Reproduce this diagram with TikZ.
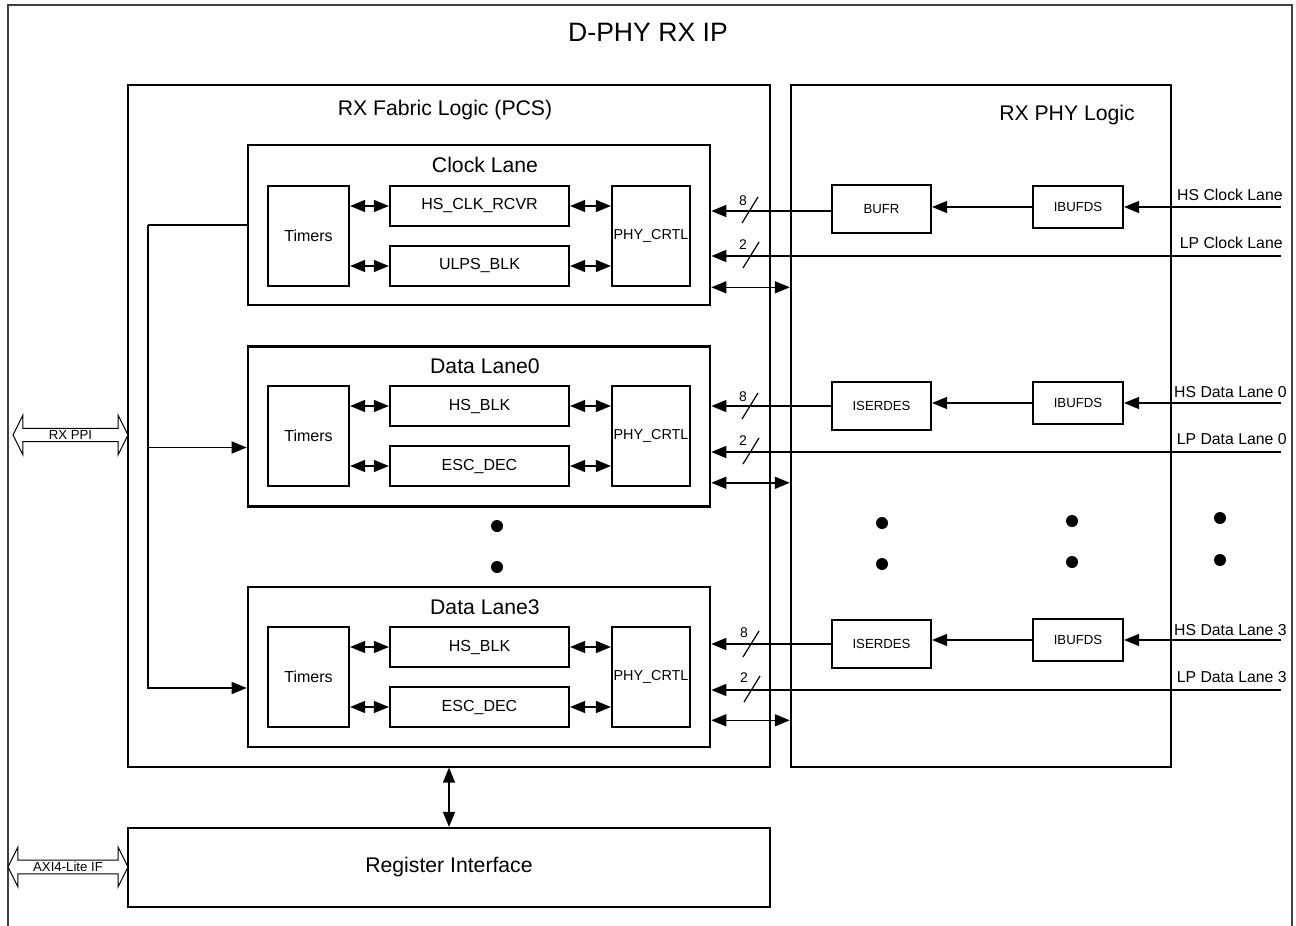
\documentclass[tikz,border=0pt]{standalone}
\usepackage{fontspec}
\setmainfont{Liberation Sans}
\usetikzlibrary{arrows.meta,shapes.arrows,calc}

\tikzset{
  bigtxt/.style={font=\fontsize{10.6}{12}\selectfont},
  lanebox/.style={draw, line width=1.3pt, inner sep=0pt, minimum width=231pt, minimum height=80pt},
  blk/.style={draw, line width=1.1pt, inner sep=0pt, font=\fontsize{8}{9}\selectfont},
  tmr/.style={blk, minimum width=40.5pt, minimum height=50pt},
  midblk/.style={blk, minimum width=89.5pt, minimum height=20pt},
  crtl/.style={blk, minimum width=39pt, minimum height=50pt, font=\fontsize{7.2}{8}\selectfont},
  phyblk/.style={draw, line width=1.1pt, inner sep=0pt, font=\fontsize{6.6}{8}\selectfont},
  serblk/.style={phyblk, minimum width=49.5pt, minimum height=24pt},
  ibufblk/.style={phyblk, minimum width=45pt, minimum height=21pt},
  sig/.style={line width=0.7pt, -{Triangle[length=7.5pt,width=6pt]}},
  bidir/.style={line width=0.7pt, {Triangle[length=7.5pt,width=6pt]}-{Triangle[length=7.5pt,width=6pt]}},
  pinlbl/.style={anchor=base east, inner sep=0pt, font=\fontsize{7.9}{9}\selectfont},
  buslbl/.style={font=\fontsize{7}{8}\selectfont},
  hollow/.style={double arrow, draw, line width=0.5pt, fill=white, inner sep=0pt,
    minimum width=20pt, double arrow head extend=5pt, double arrow tip angle=127,
    font=\fontsize{6.6}{8}\selectfont},
}

\begin{document}
\begin{tikzpicture}[x=0.5pt,y=-0.5pt]
    \useasboundingbox (0,0) rectangle (1296,926);

    % D-PHY RX IP
    \draw[line width=0.9pt, black!75] (8,940) -- (8,5) -- (1292,5) -- (1292,940);
    \node[font=\fontsize{13.3}{16}\selectfont] (ipT) at (648,32) {D-PHY RX IP};

    % RX Fabric Logic y RX PHY Logic
    \node[draw, line width=0.6pt, minimum width=321pt, minimum height=341pt] (fab) at (449,426) {};
    \node[bigtxt] (fabT) at (445,110) {RX Fabric Logic (PCS)};
    \node[draw, line width=1.2pt, minimum width=190pt, minimum height=341pt] (phy) at (981,426) {};
    \node[bigtxt] (phyT) at (1067,115) {RX PHY Logic};

    % Clock Lane
    \node[lanebox] (clk) at (479,225) {};
    \node[bigtxt] (clkT) at (485,165) {Clock Lane};
    \node[tmr] (tmrC) at (308.5,236) {Timers};
    \node[midblk] (hsC) at (479.5,206) {HS\_CLK\_RCVR};
    \node[midblk] (ulpsC) at (479.5,266) {ULPS\_BLK};
    \node[crtl] (crtlC) at (651,236) {PHY\_CRTL};
    \draw[bidir] (tmrC.east |- hsC) -- (hsC);
    \draw[bidir] (tmrC.east |- ulpsC) -- (ulpsC);
    \draw[bidir] (hsC) -- (hsC -| crtlC.west);
    \draw[bidir] (ulpsC) -- (ulpsC -| crtlC.west);

    % Data Lane0
    \node[lanebox] (dl0) at (479,426.5) {};
    \node[bigtxt] (dl0T) at (485,366) {Data Lane0};
    \node[tmr] (tmr0) at (308.5,436) {Timers};
    \node[midblk] (hs0) at (479.5,406) {HS\_BLK};
    \node[midblk] (esc0) at (479.5,466) {ESC\_DEC};
    \node[crtl] (crtl0) at (651,436) {PHY\_CRTL};
    \draw[bidir] (tmr0.east |- hs0) -- (hs0);
    \draw[bidir] (tmr0.east |- esc0) -- (esc0);
    \draw[bidir] (hs0) -- (hs0 -| crtl0.west);
    \draw[bidir] (esc0) -- (esc0 -| crtl0.west);

    % Data Lane3
    \node[lanebox] (dl3) at (479,667) {};
    \node[bigtxt] (dl3T) at (485,607) {Data Lane3};
    \node[tmr] (tmr3) at (308.5,677) {Timers};
    \node[midblk] (hs3) at (479.5,647) {HS\_BLK};
    \node[midblk] (esc3) at (479.5,707) {ESC\_DEC};
    \node[crtl] (crtl3) at (651,677) {PHY\_CRTL};
    \draw[bidir] (tmr3.east |- hs3) -- (hs3);
    \draw[bidir] (tmr3.east |- esc3) -- (esc3);
    \draw[bidir] (hs3) -- (hs3 -| crtl3.west);
    \draw[bidir] (esc3) -- (esc3 -| crtl3.west);

    % Puntos
    \fill (497,526) circle (3pt) (497,567) circle (3pt);
    \fill (882,523) circle (3pt) (882,564) circle (3pt);
    \fill (1072,521) circle (3pt) (1072,562) circle (3pt);
    \fill (1220,518) circle (3pt) (1220,560) circle (3pt);

    % Timers del reloj a los carriles de datos
    \coordinate (bus) at (148,0);
    \draw[line width=0.7pt] (clk.west) -- (clk.west -| bus);
    \draw[sig] (clk.west -| bus) |- ([yshift=-10.5pt]dl3.west);
    \draw[sig] ([yshift=-10.5pt]dl0.west -| bus) -- ([yshift=-10.5pt]dl0.west);

    % PHY: reloj
    \node[serblk] (bufr) at (881.5,209) {BUFR};
    \node[ibufblk] (ibufC) at (1078,207) {IBUFDS};
    \coordinate (hsCin) at (1281,207);
    \coordinate (lpCin) at (1281,256);
    \draw[sig] (hsCin) -- (ibufC);
    \draw[sig] (ibufC.west) -- (ibufC.west -| bufr.east);
    \draw[sig] (bufr.west |- 0,211) -- (clk.east |- 0,211);
    \draw[sig] (lpCin) -- (lpCin -| clk.east);
    \draw[bidir] ([yshift=9.5pt]clk.south east) -- ([yshift=9.5pt]clk.south east -| phy.west);
    \node[pinlbl] (hsCT) at (1283,200) {HS Clock Lane};
    \node[pinlbl] (lpCT) at (1283,248) {LP Clock Lane};
    \draw[line width=0.6pt] (742,223) -- (758,197);
    \node[buslbl] (w8C) at (743,201) {8};
    \draw[line width=0.6pt] (743,268) -- (759,242);
    \node[buslbl] (w2C) at (743,245) {2};

    % PHY: Data Lane 0
    \node[serblk] (ser0) at (881.5,406) {ISERDES};
    \node[ibufblk] (ibuf0) at (1078,403) {IBUFDS};
    \coordinate (hs0in) at (1281,403);
    \coordinate (lp0in) at (1281,452);
    \draw[sig] (hs0in) -- (ibuf0);
    \draw[sig] (ibuf0.west) -- (ibuf0.west -| ser0.east);
    \draw[sig] (ser0) -- (ser0 -| dl0.east);
    \draw[sig] (lp0in) -- (lp0in -| dl0.east);
    \draw[bidir] ([yshift=12.5pt]dl0.south east) -- ([yshift=12.5pt]dl0.south east -| phy.west);
    \node[pinlbl] (hs0T) at (1287,397) {HS Data Lane 0};
    \node[pinlbl] (lp0T) at (1287,444) {LP Data Lane 0};
    \draw[line width=0.6pt] (742,419) -- (758,393);
    \node[buslbl] (w80) at (743,397) {8};
    \draw[line width=0.6pt] (743,464) -- (759,438);
    \node[buslbl] (w20) at (743,441) {2};

    % PHY: Data Lane 3
    \node[serblk] (ser3) at (881.5,644) {ISERDES};
    \node[ibufblk] (ibuf3) at (1078,640) {IBUFDS};
    \coordinate (hs3in) at (1281,640);
    \coordinate (lp3in) at (1281,690);
    \draw[sig] (hs3in) -- (ibuf3);
    \draw[sig] (ibuf3.west) -- (ibuf3.west -| ser3.east);
    \draw[sig] (ser3) -- (ser3 -| dl3.east);
    \draw[sig] (lp3in) -- (lp3in -| dl3.east);
    \draw[bidir] ([yshift=14pt]dl3.south east) -- ([yshift=14pt]dl3.south east -| phy.west);
    \node[pinlbl] (hs3T) at (1287,635) {HS Data Lane 3};
    \node[pinlbl] (lp3T) at (1287,682) {LP Data Lane 3};
    \draw[line width=0.6pt] (743,657) -- (759,631);
    \node[buslbl] (w83) at (744,633) {8};
    \draw[line width=0.6pt] (744,702) -- (760,676);
    \node[buslbl] (w23) at (744,678) {2};

    % Register Interface
    \node[blk, bigtxt, minimum width=321pt, minimum height=39.5pt] (reg) at (449,867.5) {Register Interface};
    \draw[bidir] (reg.north) -- (reg.north |- fab.south);

    % Interfaces externas
    \node[hollow, minimum height=57.5pt] (ppi) at (70.5,435) {RX PPI};
    \node[hollow, minimum height=60pt] (axi) at (68,867) {AXI4-Lite IF};
\end{tikzpicture}
\end{document}
